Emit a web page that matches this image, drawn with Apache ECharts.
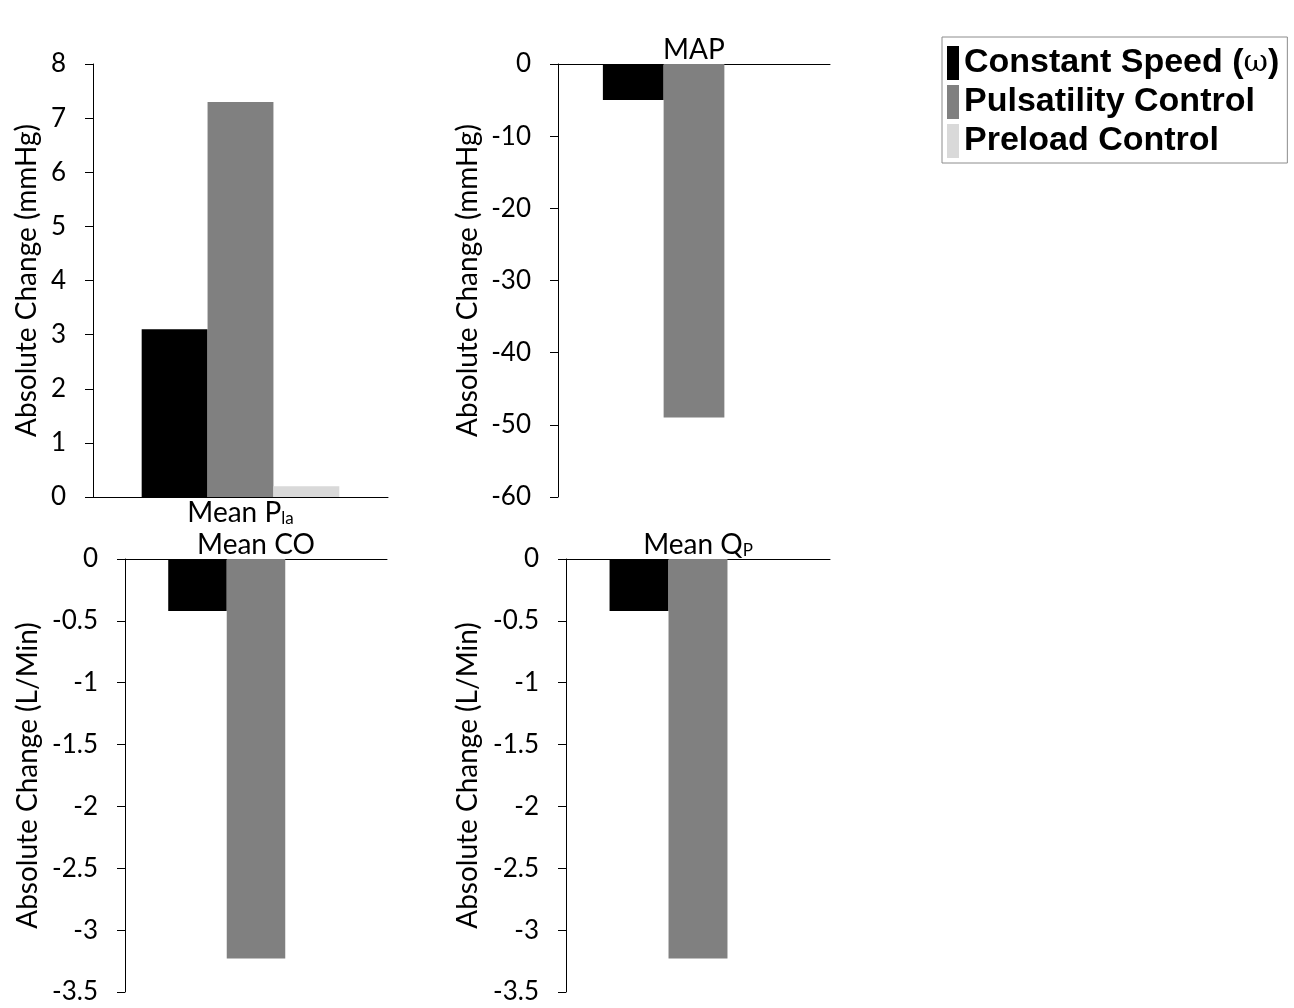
<!DOCTYPE html>
<html>
<head>
<meta charset="utf-8">
<title>Absolute change per control mode</title>
<script src="https://cdn.jsdelivr.net/npm/echarts@6/dist/echarts.min.js"></script>
<style>
  html, body { margin: 0; padding: 0; background: #fff; }
  #chart { width: 1294px; height: 1008px; }
</style>
</head>
<body>
<div id="chart"></div>
<script>
// one category per panel (rich text tokens for the subscripts)
const categories = ['{m|Mean P}{s|la}', '{m|MAP}', '{m|Mean CO}', '{m|Mean Q}{s|P}']
const yTitles = ['Absolute Change (mmHg)', 'Absolute Change (mmHg)', 'Absolute Change (L/Min)', 'Absolute Change (L/Min)']
const seriesNames = ['Constant Speed (ω)', 'Pulsatility Control', 'Preload Control']

// values per panel: P_la, MAP, CO, Q_P
const constantSpeed = [3.1, -5, -0.42, -0.42]
const pulsatility = [7.3, -49, -3.23, -3.23]
const preload = [0.2, 0, 0, 0]

// y axis ticks per panel
const yMin = [0, -60, -3.5, -3.5]
const yMax = [8, 0, 0, 0]
const yStep = [1, 10, 0.5, 0.5]

const colors = ['#000000', '#808080', '#d9d9d9']
const font = 'Lato'

const grids = [
  { left: 93, top: 64, width: 295, height: 433 },
  { left: 558, top: 64, width: 272, height: 433 },
  { left: 125, top: 559, width: 262, height: 433 },
  { left: 566, top: 559, width: 264, height: 433 }
]
const nameGaps = [52, 76, 83, 84]

const chart = echarts.init(document.getElementById('chart'))

const xAxis = categories.map((c, i) => ({
  type: 'category',
  gridIndex: i,
  data: [c],
  position: i === 0 ? 'bottom' : 'top',
  axisLine: { show: true, lineStyle: { color: '#000', width: 1 } },
  axisTick: { show: false },
  axisLabel: {
    margin: i === 0 ? 2 : 0,
    color: '#000',
    rich: {
      m: { fontFamily: font, fontSize: 28, color: '#000' },
      s: { fontFamily: font, fontSize: 17, color: '#000', verticalAlign: 'bottom' }
    }
  }
}))

const yAxis = categories.map((c, i) => ({
  type: 'value',
  gridIndex: i,
  min: yMin[i],
  max: yMax[i],
  interval: yStep[i],
  name: yTitles[i],
  nameLocation: 'middle',
  nameGap: nameGaps[i],
  nameTextStyle: { fontFamily: font, fontSize: 28, color: '#000' },
  axisLine: { show: true, lineStyle: { color: '#000', width: 1 } },
  axisTick: { show: true, inside: false, length: 8, lineStyle: { color: '#000' } },
  axisLabel: { fontFamily: font, fontSize: 26, color: '#000', margin: 27 },
  splitLine: { show: false }
}))

const values = [constantSpeed, pulsatility, preload]
const series = []
categories.forEach((c, i) => {
  values.forEach((v, k) => {
    series.push({
      type: 'bar',
      name: seriesNames[k],
      xAxisIndex: i,
      yAxisIndex: i,
      data: [v[i]],
      barGap: '0%',
      barCategoryGap: '33%',
      itemStyle: { color: colors[k] },
      emphasis: { disabled: true }
    })
  })
})

const option = {
  animation: false,
  grid: grids,
  legend: {
    data: seriesNames,
    orient: 'vertical',
    left: 942,
    top: 37,
    icon: 'rect',
    itemWidth: 12,
    itemHeight: 34,
    itemGap: 5,
    padding: [9, 8, 5, 5],
    borderColor: '#8c8c8c',
    borderWidth: 1,
    selectedMode: false,
    formatter: (name) => name.replace('ω', '{w|ω}'),
    textStyle: {
      fontFamily: 'Liberation Sans',
      fontWeight: 'bold',
      fontSize: 34,
      color: '#000',
      rich: {
        w: { fontFamily: 'DejaVu Serif', fontWeight: 'normal', fontSize: 30, color: '#000' }
      }
    }
  },
  xAxis: xAxis,
  yAxis: yAxis,
  series: series
}
chart.setOption(option, true)
</script>
</body>
</html>
